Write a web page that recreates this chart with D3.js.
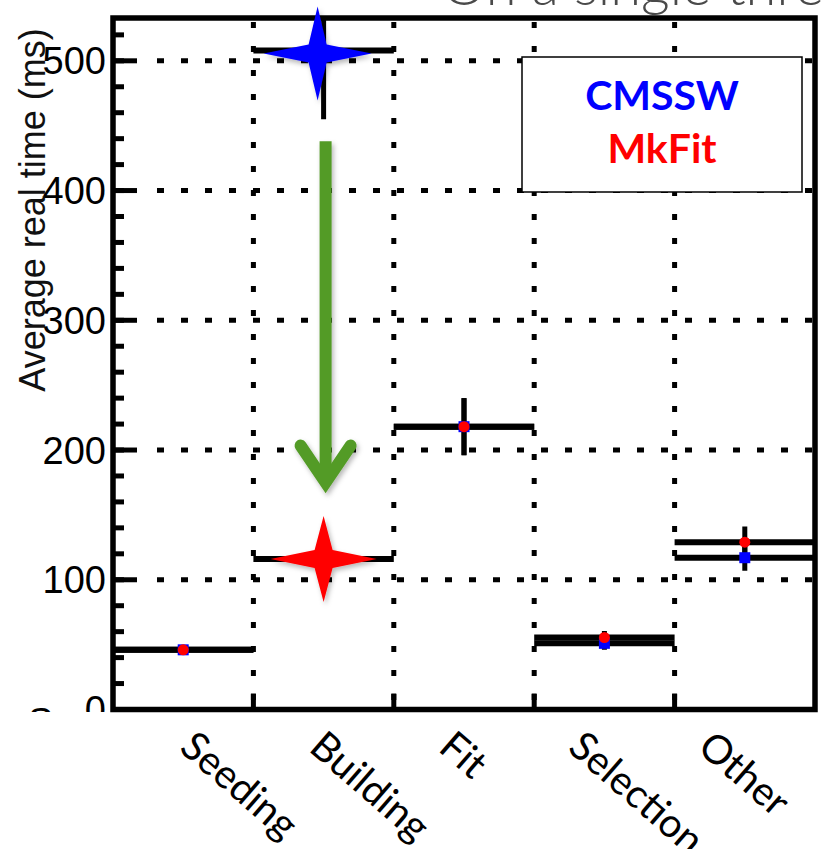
<!DOCTYPE html>
<html>
<head>
<meta charset="utf-8">
<script src="https://cdn.jsdelivr.net/npm/d3@7"></script>
<style>
  html, body { margin: 0; padding: 0; background: #fff; }
  svg { display: block; }
</style>
</head>
<body>
<svg id="chart" width="823" height="849"></svg>
<script>
// ---- data ----
const categories = ["Seeding", "Building", "Fit", "Selection", "Other"];
const cmsswValues = [46, 508, 218, 51, 117];
const cmsswErrors = [1, 53, 22, 5, 10];
const mkfitValues = [46, 116, 218, 55.5, 129];
const mkfitErrors = [1, 4, 22, 5, 12];
const yTicks = [0, 100, 200, 300, 400, 500];
const yMinorTicks = d3.range(0, 540, 20);
const legendLabels = ["CMSSW", "MkFit"];
const seriesColors = ["#0000ff", "#ff0000"];
const yTitle = "Average real time (ms)";
const topTitle = "On a single thread";
const arrowFrom = 438, arrowTo = 168;

// ---- layout ----
const svg = d3.select("#chart");
const L = 113, R = 815, T = 18, B = 709.5;
const x = d3.scaleBand().domain(categories).range([L, R]).padding(0);
const y = d3.scaleLinear().domain([0, 533]).range([B, T]);
const cx = c => x(c) + x.bandwidth() / 2;

const defs = svg.append("defs");
defs.append("clipPath").attr("id", "plotClip")
  .append("rect").attr("x", L).attr("y", T).attr("width", R - L).attr("height", B - T);
defs.append("clipPath").attr("id", "labelClip")
  .append("rect").attr("x", 0).attr("y", 0).attr("width", L).attr("height", 712);
const f = defs.append("filter").attr("id", "shadow").attr("x", "-30%").attr("y", "-30%").attr("width", "160%").attr("height", "160%");
f.append("feDropShadow").attr("dx", 2).attr("dy", 3).attr("stdDeviation", 2.5)
  .attr("flood-color", "#000").attr("flood-opacity", 0.28);

// top title (mostly cut off by the top edge)
svg.append("text").attr("x", 442).attr("y", 5)
  .attr("font-family", "Lato, 'Open Sans', sans-serif").attr("font-weight", 300)
  .attr("font-size", 56).attr("fill", "#4a4a4a").text(topTitle);

// ---- grid ----
const grid = svg.append("g").attr("clip-path", "url(#plotClip)");
grid.selectAll("line.hg").data(yTicks.filter(d => d > 0)).join("line")
  .attr("x1", L + 44).attr("x2", R).attr("y1", d => y(d)).attr("y2", d => y(d))
  .attr("stroke", "#000").attr("stroke-width", 5).attr("stroke-dasharray", "7 17");
grid.selectAll("line.vg").data(categories.slice(1)).join("line")
  .attr("x1", d => x(d)).attr("x2", d => x(d)).attr("y1", T + 4).attr("y2", B)
  .attr("stroke", "#000").attr("stroke-width", 5).attr("stroke-dasharray", "6 18");

// ---- axis ticks ----
const axisG = svg.append("g");
axisG.selectAll("line.minor").data(yMinorTicks.filter(d => y(d) > T + 3)).join("line")
  .attr("x1", L).attr("x2", L + 11).attr("y1", d => y(d)).attr("y2", d => y(d))
  .attr("stroke", "#000").attr("stroke-width", 5);
axisG.selectAll("line.major").data(yTicks).join("line")
  .attr("x1", L).attr("x2", L + 24).attr("y1", d => y(d)).attr("y2", d => y(d))
  .attr("stroke", "#000").attr("stroke-width", 5);
axisG.selectAll("line.xt").data(categories.slice(1)).join("line")
  .attr("x1", d => x(d)).attr("x2", d => x(d)).attr("y1", B).attr("y2", B - 16)
  .attr("stroke", "#000").attr("stroke-width", 5);

// tick labels
svg.append("g").attr("clip-path", "url(#labelClip)")
  .selectAll("text").data(yTicks).join("text")
  .attr("x", 106).attr("y", d => y(d)).attr("dy", "0.36em")
  .attr("text-anchor", "end")
  .attr("font-family", "'Liberation Sans', Arial, sans-serif").attr("font-size", 38)
  .attr("fill", "#000").text(d => d);
svg.append("g").attr("clip-path", "url(#labelClip)")
  .append("text").attr("x", 28).attr("y", 735)
  .attr("font-family", "'Liberation Sans', Arial, sans-serif").attr("font-size", 38)
  .text("S");

// y title
svg.append("text")
  .attr("transform", `translate(45, ${210}) rotate(-90)`)
  .attr("text-anchor", "middle")
  .attr("font-family", "'Liberation Sans', Arial, sans-serif").attr("font-size", 36)
  .attr("fill", "#111").text(yTitle);

// ---- data marks ----
const series = [
  { name: legendLabels[0], vals: cmsswValues, errs: cmsswErrors, color: seriesColors[0] },
  { name: legendLabels[1], vals: mkfitValues, errs: mkfitErrors, color: seriesColors[1] }
];
const marks = svg.append("g").attr("clip-path", "url(#plotClip)");
series.forEach(s => {
  const g = marks.append("g");
  g.selectAll("line.h").data(categories).join("line")
    .attr("x1", d => x(d)).attr("x2", d => x(d) + x.bandwidth())
    .attr("y1", (d, i) => y(s.vals[i])).attr("y2", (d, i) => y(s.vals[i]))
    .attr("stroke", "#000").attr("stroke-width", 6);
  g.selectAll("line.e").data(categories).join("line")
    .attr("x1", d => cx(d)).attr("x2", d => cx(d))
    .attr("y1", (d, i) => y(s.vals[i] - s.errs[i])).attr("y2", (d, i) => y(s.vals[i] + s.errs[i]))
    .attr("stroke", "#000").attr("stroke-width", 5);
});
// markers: CMSSW squares, MkFit circles on top
marks.append("g").selectAll("rect").data(categories).join("rect")
  .attr("x", d => cx(d) - 5.5).attr("y", (d, i) => y(cmsswValues[i]) - 5.5)
  .attr("width", 11).attr("height", 11).attr("fill", seriesColors[0]);
marks.append("g").selectAll("circle").data(categories).join("circle")
  .attr("cx", d => cx(d)).attr("cy", (d, i) => y(mkfitValues[i]))
  .attr("r", 5.5).attr("fill", seriesColors[1]);

// ---- frame ----
svg.append("rect").attr("x", L).attr("y", T).attr("width", R - L).attr("height", B - T)
  .attr("fill", "none").attr("stroke", "#000").attr("stroke-width", 5.5);

// ---- legend ----
const lg = svg.append("g");
lg.append("rect").attr("x", 522).attr("y", 57).attr("width", 280).attr("height", 135)
  .attr("fill", "#fff").attr("stroke", "#000").attr("stroke-width", 1.5);
lg.selectAll("text").data(legendLabels).join("text")
  .attr("x", 662).attr("y", (d, i) => 110 + i * 53)
  .attr("text-anchor", "middle")
  .attr("font-family", "Lato, 'Open Sans', sans-serif").attr("font-weight", 700)
  .attr("font-size", 41).attr("fill", (d, i) => seriesColors[i]).text(d => d);

// ---- annotation stars ----
function starPath(rx, ry, ri) {
  const pts = [[0, -ry], [ri, -ri], [rx, 0], [ri, ri], [0, ry], [-ri, ri], [-rx, 0], [-ri, -ri]];
  return d3.line()(pts) + "Z";
}
const bi = categories.indexOf("Building");
svg.append("path").attr("d", starPath(54, 47, 9))
  .attr("transform", `translate(${cx("Building") - 6}, ${y(cmsswValues[bi]) + 3})`)
  .attr("fill", seriesColors[0]).attr("filter", "url(#shadow)");
svg.append("path").attr("d", starPath(53, 43, 9))
  .attr("transform", `translate(${cx("Building")}, ${y(mkfitValues[bi])})`)
  .attr("fill", seriesColors[1]).attr("filter", "url(#shadow)");

// ---- green arrow ----
const ax = cx("Building") + 2;
const ag = svg.append("g").attr("filter", "url(#shadow)");
ag.append("line").attr("x1", ax).attr("x2", ax).attr("y1", y(arrowFrom)).attr("y2", y(arrowTo) - 8)
  .attr("stroke", "#539b27").attr("stroke-width", 12);
ag.append("path")
  .attr("d", d3.line()([[ax - 25, y(arrowTo) - 46], [ax, y(arrowTo) - 9], [ax + 25, y(arrowTo) - 46]]))
  .attr("fill", "none").attr("stroke", "#539b27").attr("stroke-width", 12)
  .attr("stroke-linecap", "round").attr("stroke-linejoin", "miter");

// ---- category labels ----
const labelX = d3.scaleLinear().domain([0, categories.length - 1]).range([178, 696]);
svg.append("g").selectAll("text").data(categories).join("text")
  .attr("transform", (d, i) => `translate(${labelX(i)}, ${750}) rotate(41)`)
  .attr("font-family", "Lato, 'Open Sans', sans-serif").attr("font-size", 40)
  .attr("fill", "#000").text(d => d);
</script>
</body>
</html>
